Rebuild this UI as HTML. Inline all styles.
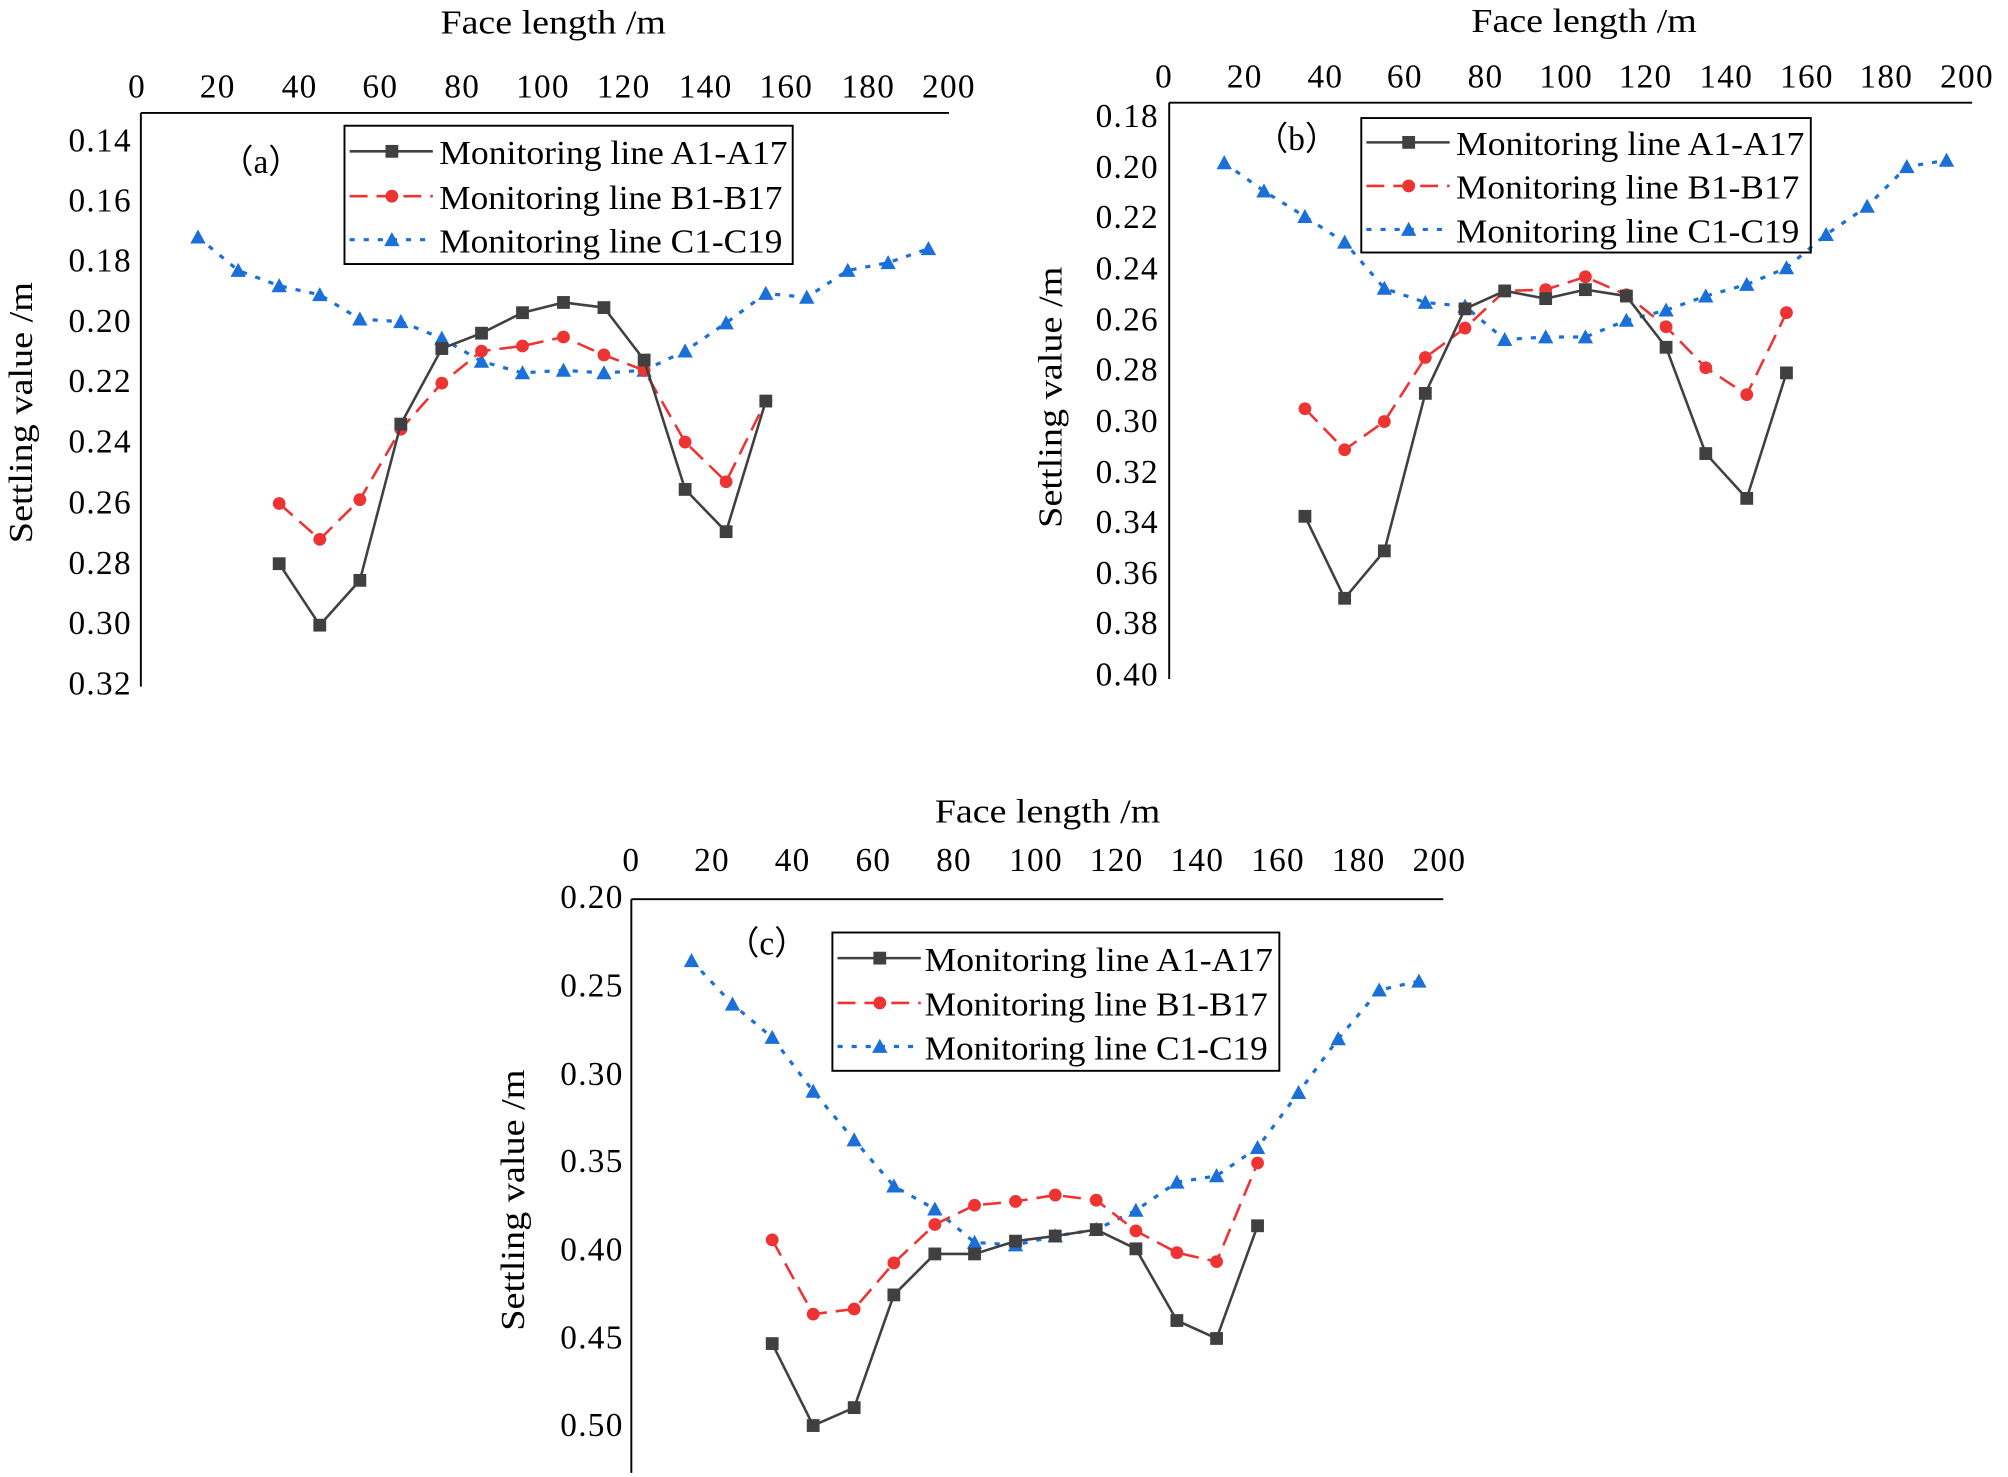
<!DOCTYPE html>
<html><head><style>html,body{margin:0;padding:0;background:#fff}svg{display:block}</style></head><body>
<svg width="2008" height="1477" viewBox="0 0 1568 1153" xmlns="http://www.w3.org/2000/svg" font-family="'Liberation Serif', serif" font-size="26" fill="#000">
<defs>
<marker id="sq" markerUnits="userSpaceOnUse" markerWidth="12" markerHeight="12" refX="6" refY="6"><rect x="1" y="1" width="10" height="10" fill="#404040"/></marker>
<marker id="ci" markerUnits="userSpaceOnUse" markerWidth="12" markerHeight="12" refX="6" refY="6"><circle cx="6" cy="6" r="5" fill="#ee3333"/></marker>
<marker id="tr" markerUnits="userSpaceOnUse" markerWidth="14" markerHeight="14" refX="7" refY="7"><polygon points="7,1 13,12 1,12" fill="#1a6fd8"/></marker>
</defs>
<g fill="none">
<path d="M110 88H741M110 88V536" stroke="#000" stroke-width="1.5"/>
<polyline stroke="#1a6fd8" stroke-width="2.5" stroke-dasharray="4,7" marker-start="url(#tr)" marker-mid="url(#tr)" marker-end="url(#tr)" points="154.6,185 186,211 218,223 249.7,230 281,249 313,251 345,264 376,282 408,291 440,289 471.6,291 503,289 535,274 567,252 598,229 630,232 662,211 693.5,205 725,194"/>
<polyline stroke="#ee3333" stroke-width="2" stroke-dasharray="14,7" marker-start="url(#ci)" marker-mid="url(#ci)" marker-end="url(#ci)" points="218,393 249.7,421 281,390 313,335 345,299 376,274 408,270 440,263 471.6,277 503,289 535,345 567,376 598,313"/>
<polyline stroke="#404040" stroke-width="2" stroke-linejoin="round" marker-start="url(#sq)" marker-mid="url(#sq)" marker-end="url(#sq)" points="218,440 249.7,488 281,453 313,331 345,272 376,260 408,244 440,236 471.6,240 503,281 535,382 567,415 598,313"/>
<rect x="269" y="98" width="350" height="108" stroke="#000" stroke-width="1.5"/>
<path d="M913 80H1540M913 80V530" stroke="#000" stroke-width="1.5"/>
<polyline stroke="#1a6fd8" stroke-width="2.5" stroke-dasharray="4,7" marker-start="url(#tr)" marker-mid="url(#tr)" marker-end="url(#tr)" points="956,127 987,149 1019,169 1050,189 1081,225 1113,236 1144,239 1175,265 1207,263 1238,263 1270,250 1301,242 1332,231 1364,222 1395,209 1426,183 1458,161 1489,130 1520,125"/>
<polyline stroke="#ee3333" stroke-width="2" stroke-dasharray="14,7" marker-start="url(#ci)" marker-mid="url(#ci)" marker-end="url(#ci)" points="1019,319 1050,351 1081,329 1113,279 1144,256 1175,227 1207,226 1238,216 1270,230 1301,255 1332,287 1364,308 1395,244"/>
<polyline stroke="#404040" stroke-width="2" stroke-linejoin="round" marker-start="url(#sq)" marker-mid="url(#sq)" marker-end="url(#sq)" points="1019,403 1050,467 1081,430 1113,307 1144,241 1175,227 1207,233 1238,226 1270,231 1301,271 1332,354 1364,389 1395,291"/>
<rect x="1063" y="92" width="351" height="105" stroke="#000" stroke-width="1.5"/>
<path d="M493 702H1127M493 702V1150" stroke="#000" stroke-width="1.5"/>
<polyline stroke="#1a6fd8" stroke-width="2.5" stroke-dasharray="4,7" marker-start="url(#tr)" marker-mid="url(#tr)" marker-end="url(#tr)" points="540,750 572,784 603,810 635,852 667,890 698,926 730,944 761,970 793,972 824,965 856,960 887,945 919,923 950,918 982,896 1014,853 1045,811 1077,773 1108,766"/>
<polyline stroke="#ee3333" stroke-width="2" stroke-dasharray="14,7" marker-start="url(#ci)" marker-mid="url(#ci)" marker-end="url(#ci)" points="603,968 635,1026 667,1022 698,986 730,956 761,941 793,938 824,933 856,937 887,961 919,978 950,985 982,908"/>
<polyline stroke="#404040" stroke-width="2" stroke-linejoin="round" marker-start="url(#sq)" marker-mid="url(#sq)" marker-end="url(#sq)" points="603,1049 635,1113 667,1099 698,1011 730,979 761,979 793,969 824,965 856,960 887,975 919,1031 950,1045 982,957"/>
<rect x="650" y="728" width="349" height="108" stroke="#000" stroke-width="1.5"/>
</g>
<g fill="none" stroke-width="2">
<line x1="273" y1="118" x2="338" y2="118" stroke="#404040"/><rect x="301" y="113" width="10" height="10" fill="#404040" stroke="none"/>
<line x1="273" y1="153" x2="338" y2="153" stroke="#ee3333" stroke-dasharray="14,7"/><circle cx="306" cy="153" r="5" fill="#ee3333" stroke="none"/>
<line x1="273" y1="187" x2="338" y2="187" stroke="#1a6fd8" stroke-dasharray="4,7" stroke-width="2.5"/><polygon points="306,181 312,192 300,192" fill="#1a6fd8" stroke="none"/>
<line x1="1067" y1="111" x2="1132" y2="111" stroke="#404040"/><rect x="1095" y="106" width="10" height="10" fill="#404040" stroke="none"/>
<line x1="1067" y1="145" x2="1132" y2="145" stroke="#ee3333" stroke-dasharray="14,7"/><circle cx="1100" cy="145" r="5" fill="#ee3333" stroke="none"/>
<line x1="1067" y1="179" x2="1132" y2="179" stroke="#1a6fd8" stroke-dasharray="4,7" stroke-width="2.5"/><polygon points="1100,173 1106,184 1094,184" fill="#1a6fd8" stroke="none"/>
<line x1="654" y1="748" x2="719" y2="748" stroke="#404040"/><rect x="682" y="743" width="10" height="10" fill="#404040" stroke="none"/>
<line x1="654" y1="783" x2="719" y2="783" stroke="#ee3333" stroke-dasharray="14,7"/><circle cx="687" cy="783" r="5" fill="#ee3333" stroke="none"/>
<line x1="654" y1="817" x2="719" y2="817" stroke="#1a6fd8" stroke-dasharray="4,7" stroke-width="2.5"/><polygon points="687,811 693,822 681,822" fill="#1a6fd8" stroke="none"/>
</g>
<text x="343" y="128" textLength="272" lengthAdjust="spacingAndGlyphs">Monitoring line A1-A17</text>
<text x="343" y="163" textLength="268" lengthAdjust="spacingAndGlyphs">Monitoring line B1-B17</text>
<text x="343" y="197" textLength="268" lengthAdjust="spacingAndGlyphs">Monitoring line C1-C19</text>
<text x="1137" y="121" textLength="272" lengthAdjust="spacingAndGlyphs">Monitoring line A1-A17</text>
<text x="1137" y="155" textLength="268" lengthAdjust="spacingAndGlyphs">Monitoring line B1-B17</text>
<text x="1137" y="189" textLength="268" lengthAdjust="spacingAndGlyphs">Monitoring line C1-C19</text>
<text x="722" y="758" textLength="272" lengthAdjust="spacingAndGlyphs">Monitoring line A1-A17</text>
<text x="722" y="793" textLength="268" lengthAdjust="spacingAndGlyphs">Monitoring line B1-B17</text>
<text x="722" y="827" textLength="268" lengthAdjust="spacingAndGlyphs">Monitoring line C1-C19</text>
<text x="172" y="135">（a）</text><text x="980" y="117">（b）</text><text x="567" y="745">（c）</text>
<g text-anchor="middle">
<text x="432" y="26" textLength="176" lengthAdjust="spacingAndGlyphs">Face length /m</text>
<text x="1237" y="25" textLength="176" lengthAdjust="spacingAndGlyphs">Face length /m</text>
<text x="818" y="642" textLength="176" lengthAdjust="spacingAndGlyphs">Face length /m</text>
<text transform="translate(25,322) rotate(-90)" textLength="204" lengthAdjust="spacingAndGlyphs">Settling value /m</text>
<text transform="translate(829,310) rotate(-90)" textLength="204" lengthAdjust="spacingAndGlyphs">Settling value /m</text>
<text transform="translate(409,937) rotate(-90)" textLength="204" lengthAdjust="spacingAndGlyphs">Settling value /m</text>
</g>
<g text-anchor="middle" letter-spacing="1">
<text x="107" y="76">0</text><text x="170" y="76">20</text><text x="234" y="76">40</text><text x="297" y="76">60</text><text x="361" y="76">80</text><text x="424" y="76">100</text><text x="487" y="76">120</text><text x="551" y="76">140</text><text x="614" y="76">160</text><text x="678" y="76">180</text><text x="741" y="76">200</text>
<text x="909" y="68">0</text><text x="972" y="68">20</text><text x="1035" y="68">40</text><text x="1097" y="68">60</text><text x="1160" y="68">80</text><text x="1223" y="68">100</text><text x="1285" y="68">120</text><text x="1348" y="68">140</text><text x="1411" y="68">160</text><text x="1473" y="68">180</text><text x="1536" y="68">200</text>
<text x="493" y="680">0</text><text x="556" y="680">20</text><text x="619" y="680">40</text><text x="682" y="680">60</text><text x="745" y="680">80</text><text x="809" y="680">100</text><text x="872" y="680">120</text><text x="935" y="680">140</text><text x="998" y="680">160</text><text x="1061" y="680">180</text><text x="1124" y="680">200</text>
</g>
<g text-anchor="end" letter-spacing="1">
<text x="103" y="118">0.14</text><text x="103" y="165">0.16</text><text x="103" y="212">0.18</text><text x="103" y="259">0.20</text><text x="103" y="306">0.22</text><text x="103" y="353">0.24</text><text x="103" y="401">0.26</text><text x="103" y="448">0.28</text><text x="103" y="495">0.30</text><text x="103" y="542">0.32</text>
<text x="905" y="99">0.18</text><text x="905" y="139">0.20</text><text x="905" y="178">0.22</text><text x="905" y="218">0.24</text><text x="905" y="258">0.26</text><text x="905" y="297">0.28</text><text x="905" y="337">0.30</text><text x="905" y="377">0.32</text><text x="905" y="416">0.34</text><text x="905" y="456">0.36</text><text x="905" y="495">0.38</text><text x="905" y="535">0.40</text>
<text x="487" y="709">0.20</text><text x="487" y="778">0.25</text><text x="487" y="847">0.30</text><text x="487" y="915">0.35</text><text x="487" y="984">0.40</text><text x="487" y="1053">0.45</text><text x="487" y="1121">0.50</text>
</g>
</svg>
</body></html>
